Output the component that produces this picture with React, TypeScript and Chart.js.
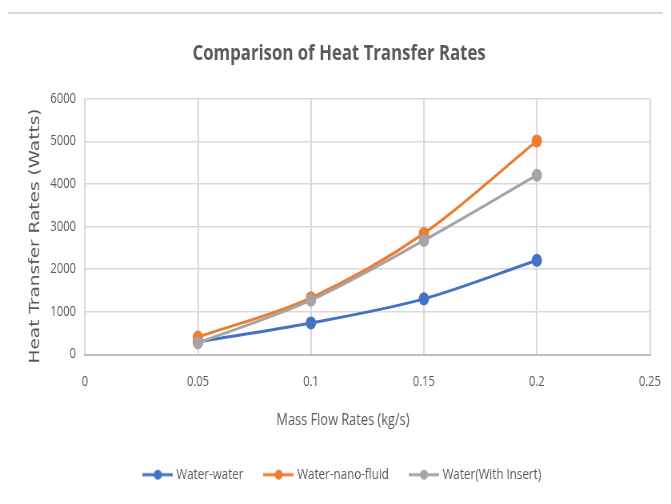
import React, { useEffect, useRef } from "react";
import { Chart, registerables } from "chart.js";

Chart.register(...registerables);

const massFlowRates = [0.05, 0.1, 0.15, 0.2];
const waterWater = [300, 740, 1305, 2210];
const waterNanoFluid = [410, 1330, 2840, 5010];
const waterWithInsert = [270, 1275, 2675, 4205];
const xTickLabels = ["0", "0.05", "0.1", "0.15", "0.2", "0.25"];
const seriesNames = ["Water-water", "Water-nano-fluid", "Water(With Insert)"];
const seriesColors = ["#4472C4", "#ED7D31", "#A5A5A5"];
const yAxisTitle = "Heat Transfer Rates (Watts)";
const xAxisTitle = "Mass Flow Rates (kg/s)";

// The reference picture is horizontally compressed (~0.8): the chart is drawn
// on a wider canvas and shown at 671px wide.
const SQUISH = 0.8;
const CW = Math.round(671 / SQUISH);
const CH = 504;
const sx = (v: number) => v / SQUISH;

const FONT = "'Open Sans', 'Liberation Sans', sans-serif";
const TEXT = "#595959";
const PAD_RIGHT = CW - sx(650);
const PAD_LEFT = PAD_RIGHT + 9;

function legendIcon(color: string) {
  const c = document.createElement("canvas");
  c.width = 38;
  c.height = 12;
  const ctx = c.getContext("2d")!;
  ctx.strokeStyle = color;
  ctx.lineWidth = 3;
  ctx.beginPath();
  ctx.moveTo(0, 6);
  ctx.lineTo(38, 6);
  ctx.stroke();
  ctx.fillStyle = color;
  ctx.beginPath();
  ctx.arc(19, 6, 5, 0, Math.PI * 2);
  ctx.fill();
  return c;
}

const framePlugin = {
  id: "frame",
  afterLayout(chart: any) {
    const lg = chart.legend;
    if (lg) {
      lg.left += 5;
      lg.right += 5;
    }
  },
  beforeDraw(chart: any) {
    const ctx = chart.ctx;
    ctx.save();
    ctx.fillStyle = "#ffffff";
    ctx.fillRect(0, 0, chart.width, chart.height);
    ctx.strokeStyle = "#d9d9d9";
    ctx.lineWidth = 2;
    ctx.strokeRect(sx(6), 13, chart.width + 40, chart.height + 40);
    ctx.restore();
  },
  afterDraw(chart: any) {
    const ctx = chart.ctx;
    ctx.save();
    ctx.fillStyle = TEXT;
    ctx.textAlign = "center";
    ctx.textBaseline = "middle";
    ctx.font = `16px ${FONT}`;
    ctx.fillText(xAxisTitle, sx(343), 420);
    ctx.translate(sx(35), 236);
    ctx.rotate(-Math.PI / 2);
    ctx.font = "18.5px 'DejaVu Sans', sans-serif";
    ctx.fillText(yAxisTitle, 0, 0);
    ctx.restore();
  },
};

export default function App() {
  const ref = useRef<HTMLCanvasElement | null>(null);
  useEffect(() => {
    if (!ref.current) return;
    const series = [waterWater, waterNanoFluid, waterWithInsert];
    const icons = seriesColors.map(legendIcon);
    const chart = new Chart(ref.current, {
      type: "line",
      data: {
        datasets: series.map((vals, i) => ({
          label: seriesNames[i],
          data: vals.map((v, j) => ({ x: massFlowRates[j], y: v })),
          borderColor: seriesColors[i],
          backgroundColor: seriesColors[i],
          borderWidth: 3,
          pointRadius: 5,
          pointHoverRadius: 5,
          cubicInterpolationMode: "monotone" as const,
          order: 2 - i,
        })),
      },
      options: {
        animation: false,
        responsive: false,
        layout: { padding: { left: PAD_LEFT, right: PAD_RIGHT, top: 0, bottom: 12 } },
        plugins: {
          tooltip: { enabled: false },
          title: {
            display: true,
            text: "Comparison of Heat Transfer Rates",
            color: TEXT,
            font: { family: FONT, size: 21, weight: "bold" },
            padding: { top: 41.5, bottom: 32 },
          },
          legend: {
            position: "bottom",
            labels: {
              usePointStyle: true,
              pointStyleWidth: 32,
              color: TEXT,
              font: { family: FONT, size: 14.5 },
              padding: 28,
              generateLabels: (ch: any) =>
                ch.data.datasets.map((ds: any, i: number) => ({
                  text: ds.label,
                  fillStyle: seriesColors[i],
                  strokeStyle: seriesColors[i],
                  pointStyle: icons[i],
                  fontColor: TEXT,
                  lineWidth: 0,
                  hidden: false,
                  datasetIndex: i,
                })),
            },
          },
        },
        scales: {
          x: {
            type: "linear",
            min: 0,
            max: 0.25,
            afterFit: (scale: any) => {
              scale.height = 85;
              scale.paddingLeft = 0;
              scale.paddingRight = 0;
            },
            ticks: {
              stepSize: 0.05,
              color: TEXT,
              font: { family: FONT, size: 14 },
              padding: 19,
              maxRotation: 0,
              callback: (_v: any, idx: number) => xTickLabels[idx],
            },
            grid: { color: "#d9d9d9", drawTicks: false, lineWidth: 2 },
            border: { color: "#bfbfbf", width: 2 },
            title: { display: false },
          },
          y: {
            min: 0,
            max: 6000,
            afterFit: (scale: any) => {
              scale.width = sx(85) - PAD_LEFT;
            },
            ticks: {
              stepSize: 1000,
              color: TEXT,
              font: { family: FONT, size: 14 },
              padding: sx(9),
              callback: (v: any) => String(v),
            },
            grid: { color: "#d9d9d9", drawTicks: false, lineWidth: 1.5 },
            border: { display: false },
          },
        },
      },
      plugins: [framePlugin],
    } as any);
    return () => chart.destroy();
  }, []);
  return (
    <div style={{ margin: -8, width: 671, height: 504, overflow: "hidden" }}>
      <canvas
        ref={ref}
        width={CW}
        height={CH}
        style={{ display: "block", width: 671, height: 504 }}
      />
    </div>
  );
}
